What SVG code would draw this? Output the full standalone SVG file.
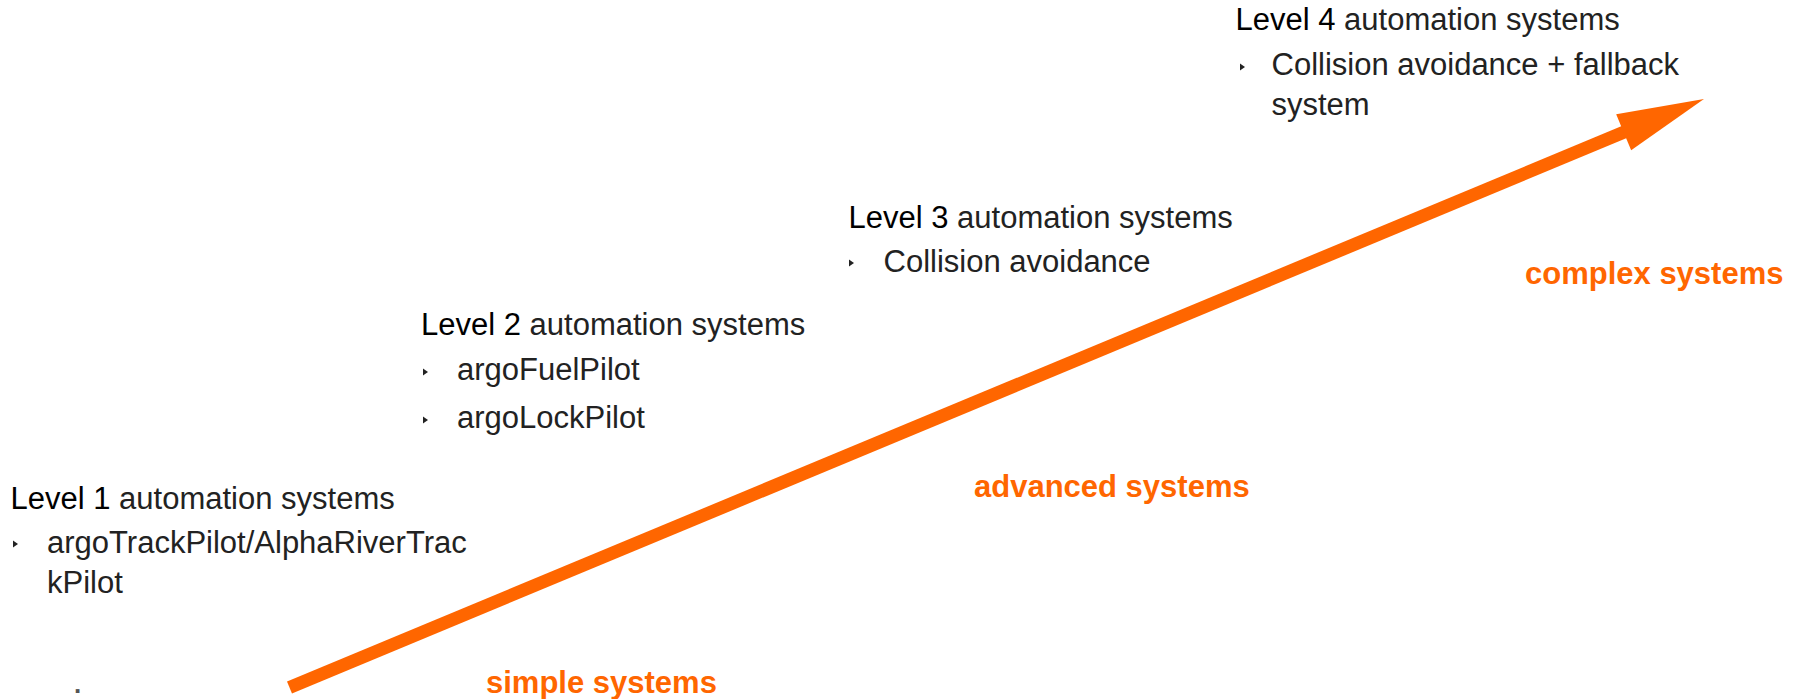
<svg xmlns="http://www.w3.org/2000/svg" width="1800" height="699" viewBox="0 0 1800 699">
  <style>
    .lvl { font-family: "Liberation Sans", Arial, sans-serif; font-size: 31px; fill: #000; }
    .lt { fill: #222; }
    .item { font-family: "Liberation Sans", Arial, sans-serif; font-size: 31px; fill: #222; }
    .tag { font-family: "Liberation Sans", Arial, sans-serif; font-size: 31px; font-weight: bold; fill: #ff6600; }
    .bul { fill: #222; }
  </style>
  <defs>
    <marker id="ah" markerUnits="userSpaceOnUse" markerWidth="90" markerHeight="40" viewBox="0 0 90 40" refX="2" refY="20" orient="auto" overflow="visible">
      <path d="M0,0.5 L87,20 L0,39.5 z" fill="#ff6600"/>
    </marker>
    <path id="tri" d="M0,-3.5 L5,0 L0,3.5 z"/>
  </defs>

  <g id="connectors">
    <line x1="289.5" y1="687.5" x2="1625.5" y2="131.6" stroke="#ff6600" stroke-width="13" marker-end="url(#ah)"/>
  </g>

  <g id="level1">
    <text class="lvl" x="10.5" y="509">Level 1<tspan class="lt"> automation systems</tspan></text>
    <use href="#tri" class="bul" x="13" y="544"/>
    <text class="item" x="47" y="553">argoTrackPilot/AlphaRiverTrac</text>
    <text class="item" x="47" y="593">kPilot</text>
  </g>

  <g id="level2">
    <text class="lvl" x="421" y="335">Level 2<tspan class="lt"> automation systems</tspan></text>
    <use href="#tri" class="bul" x="423" y="372"/>
    <text class="item" x="457" y="380">argoFuelPilot</text>
    <use href="#tri" class="bul" x="423" y="420"/>
    <text class="item" x="457" y="428">argoLockPilot</text>
  </g>

  <g id="level3">
    <text class="lvl" x="848.5" y="228">Level 3<tspan class="lt"> automation systems</tspan></text>
    <use href="#tri" class="bul" x="849" y="263"/>
    <text class="item" x="883.5" y="272">Collision avoidance</text>
  </g>

  <g id="level4">
    <text class="lvl" x="1235.5" y="30">Level 4<tspan class="lt"> automation systems</tspan></text>
    <use href="#tri" class="bul" x="1240" y="67"/>
    <text class="item" x="1271.5" y="75">Collision avoidance + fallback</text>
    <text class="item" x="1271.5" y="115">system</text>
  </g>

  <g id="labels">
    <text class="tag" x="486" y="693">simple systems</text>
    <text class="tag" x="974" y="497">advanced systems</text>
    <text class="tag" x="1525" y="284">complex systems</text>
  </g>

  <text x="74" y="693" font-family="Liberation Sans, Arial, sans-serif" font-size="26" font-weight="bold" fill="#555">.</text>
</svg>
